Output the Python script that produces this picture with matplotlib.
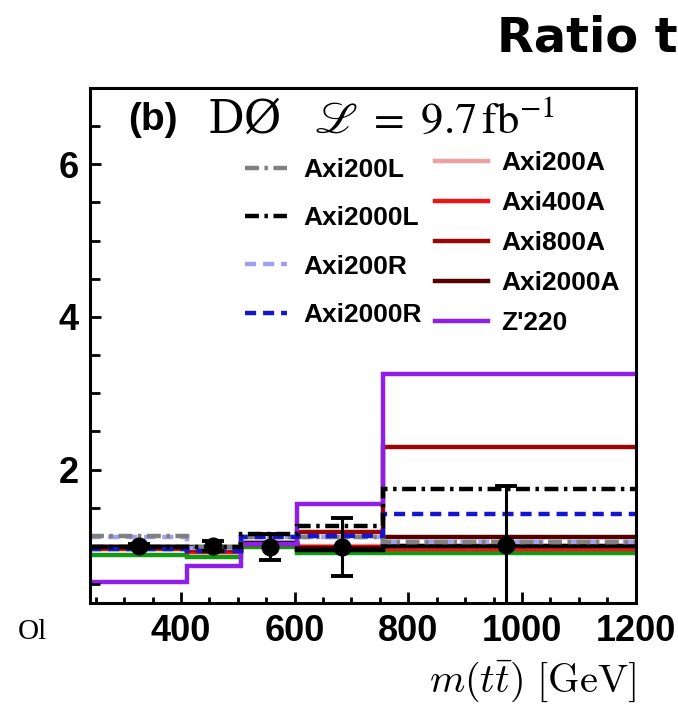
import matplotlib
matplotlib.use("Agg")
import matplotlib.pyplot as plt
from matplotlib.lines import Line2D
from matplotlib.ticker import MultipleLocator

plt.rcParams["lines.scale_dashes"] = False
plt.rcParams["mathtext.fontset"] = "cm"

# m(tt) bins in GeV and ratio per bin
bin_edges = [240, 410, 505, 605, 755, 1200]

axi200L = [1.13, 0.98, 1.12, 1.12, 1.05]
axi2000L = [0.98, 0.98, 1.16, 1.26, 1.75]
axi200R = [1.12, 0.97, 1.11, 1.11, 1.05]
axi2000R = [0.96, 0.93, 1.12, 1.13, 1.42]
axi200A = [0.97, 0.95, 1.02, 1.00, 1.00]
axi400A = [0.96, 0.92, 1.02, 0.98, 0.96]
axi800A = [0.98, 0.95, 1.04, 1.18, 2.29]
axi2000A = [0.99, 0.97, 1.03, 0.97, 1.12]
zp220 = [0.52, 0.73, 1.03, 1.55, 3.25]
base_black = [0.99, 0.99, 1.04, 0.95, 1.00]
base_green = [0.88, 0.86, 0.98, 0.90, 0.91]

# measured points
data_x = [326, 457, 557, 683, 972]
data_y = [1.00, 1.00, 0.99, 0.99, 1.01]
data_err = [0.03, 0.07, 0.17, 0.38, 0.77]

LW = 3.2
dashdot = (0, (10, 4, 2.5, 4))
dashed = (0, (8, 5))

# label, values, colour, linestyle (drawing order)
series = [
    (None, base_green, "#129a12", "-"),
    ("Axi200A", axi200A, "#f0a0a0", "-"),
    ("Axi400A", axi400A, "#ee1515", "-"),
    ("Axi800A", axi800A, "#9a0505", "-"),
    ("Axi2000A", axi2000A, "#560000", "-"),
    (None, base_black, "black", "-"),
    ("Z'220", zp220, "#8e1ee8", "-"),
    ("Axi200R", axi200R, "#a0a0f0", dashed),
    ("Axi200L", axi200L, "#808080", dashdot),
    ("Axi2000R", axi2000R, "#1515cc", dashed),
    ("Axi2000L", axi2000L, "black", dashdot),
]

fig = plt.figure(figsize=(6.78, 7.07), dpi=100)
ax = fig.add_axes([0.1327, 0.147, 0.805, 0.7285])

styles = {}
for label, vals, color, ls in series:
    ax.stairs(vals, bin_edges, baseline=None, color=color, linestyle=ls, linewidth=LW)
    if label:
        styles[label] = (color, ls)

ax.errorbar(data_x, data_y, yerr=data_err, fmt="o", color="black", ms=12,
            elinewidth=2.2, capsize=8, capthick=2.8, zorder=10)

ax.set_xlim(240, 1200)
ax.set_ylim(0.25, 7.0)
ax.xaxis.set_major_locator(MultipleLocator(200))
ax.xaxis.set_minor_locator(MultipleLocator(50))
ax.yaxis.set_major_locator(MultipleLocator(2))
ax.yaxis.set_minor_locator(MultipleLocator(0.5))
ax.tick_params(which="both", direction="in", top=False, right=False, width=2)
ax.tick_params(which="major", length=8)
ax.tick_params(axis="x", which="minor", length=4)
ax.tick_params(axis="y", which="minor", length=7)
for lab in ax.get_xticklabels() + ax.get_yticklabels():
    lab.set_fontfamily("Liberation Sans")
    lab.set_fontweight("bold")
    lab.set_fontsize(26)
ax.tick_params(axis="x", pad=8)
ax.tick_params(axis="y", pad=8)
for sp in ax.spines.values():
    sp.set_linewidth(2.2)

ax.set_xlabel(r"$m(t\bar{t})\ [\mathrm{GeV}]$", fontsize=29, loc="right", va="center")
ax.xaxis.set_label_coords(1.0, -0.152)

# header inside the frame
ax.text(0.07, 0.938, "(b)", transform=ax.transAxes, fontsize=28, fontweight="bold",
        family="Liberation Sans", va="center")
ax.text(0.215, 0.938, "DØ", transform=ax.transAxes, fontsize=33,
        family="DejaVu Serif", va="center")
ax.text(0.41, 0.938, r"$\mathscr{L}\ =\ 9.7\,\mathrm{fb}^{-1}$", transform=ax.transAxes,
        fontsize=32, va="center", math_fontfamily="stix")

legend_font = {"family": "Liberation Sans", "weight": "bold", "size": 19}


def proxies(names):
    return [Line2D([], [], color=styles[n][0], linestyle=styles[n][1], linewidth=LW)
            for n in names]


left_names = ["Axi200L", "Axi2000L", "Axi200R", "Axi2000R"]
right_names = ["Axi200A", "Axi400A", "Axi800A", "Axi2000A", "Z'220"]

leg1 = ax.legend(proxies(left_names), left_names, loc="upper left",
                 bbox_to_anchor=(0.284, 0.864), frameon=False, prop=legend_font,
                 borderpad=0, borderaxespad=0, handlelength=1.6, handletextpad=0.6,
                 labelspacing=0.92)
ax.add_artist(leg1)
ax.legend(proxies(right_names), right_names, loc="upper left",
          bbox_to_anchor=(0.632, 0.878), frameon=False, prop=legend_font,
          borderpad=0, borderaxespad=0, handlelength=2.0, handletextpad=0.5,
          labelspacing=0.61)

fig.text(497 / 678, 1 - 52 / 707, "Ratio t", fontsize=34.5, fontweight="bold",
         family="DejaVu Sans", va="baseline")
fig.text(18 / 678, 1 - 632 / 707, "Ol", fontsize=21, family="Liberation Serif",
         va="center")

fig.savefig("out.png", dpi=100)
